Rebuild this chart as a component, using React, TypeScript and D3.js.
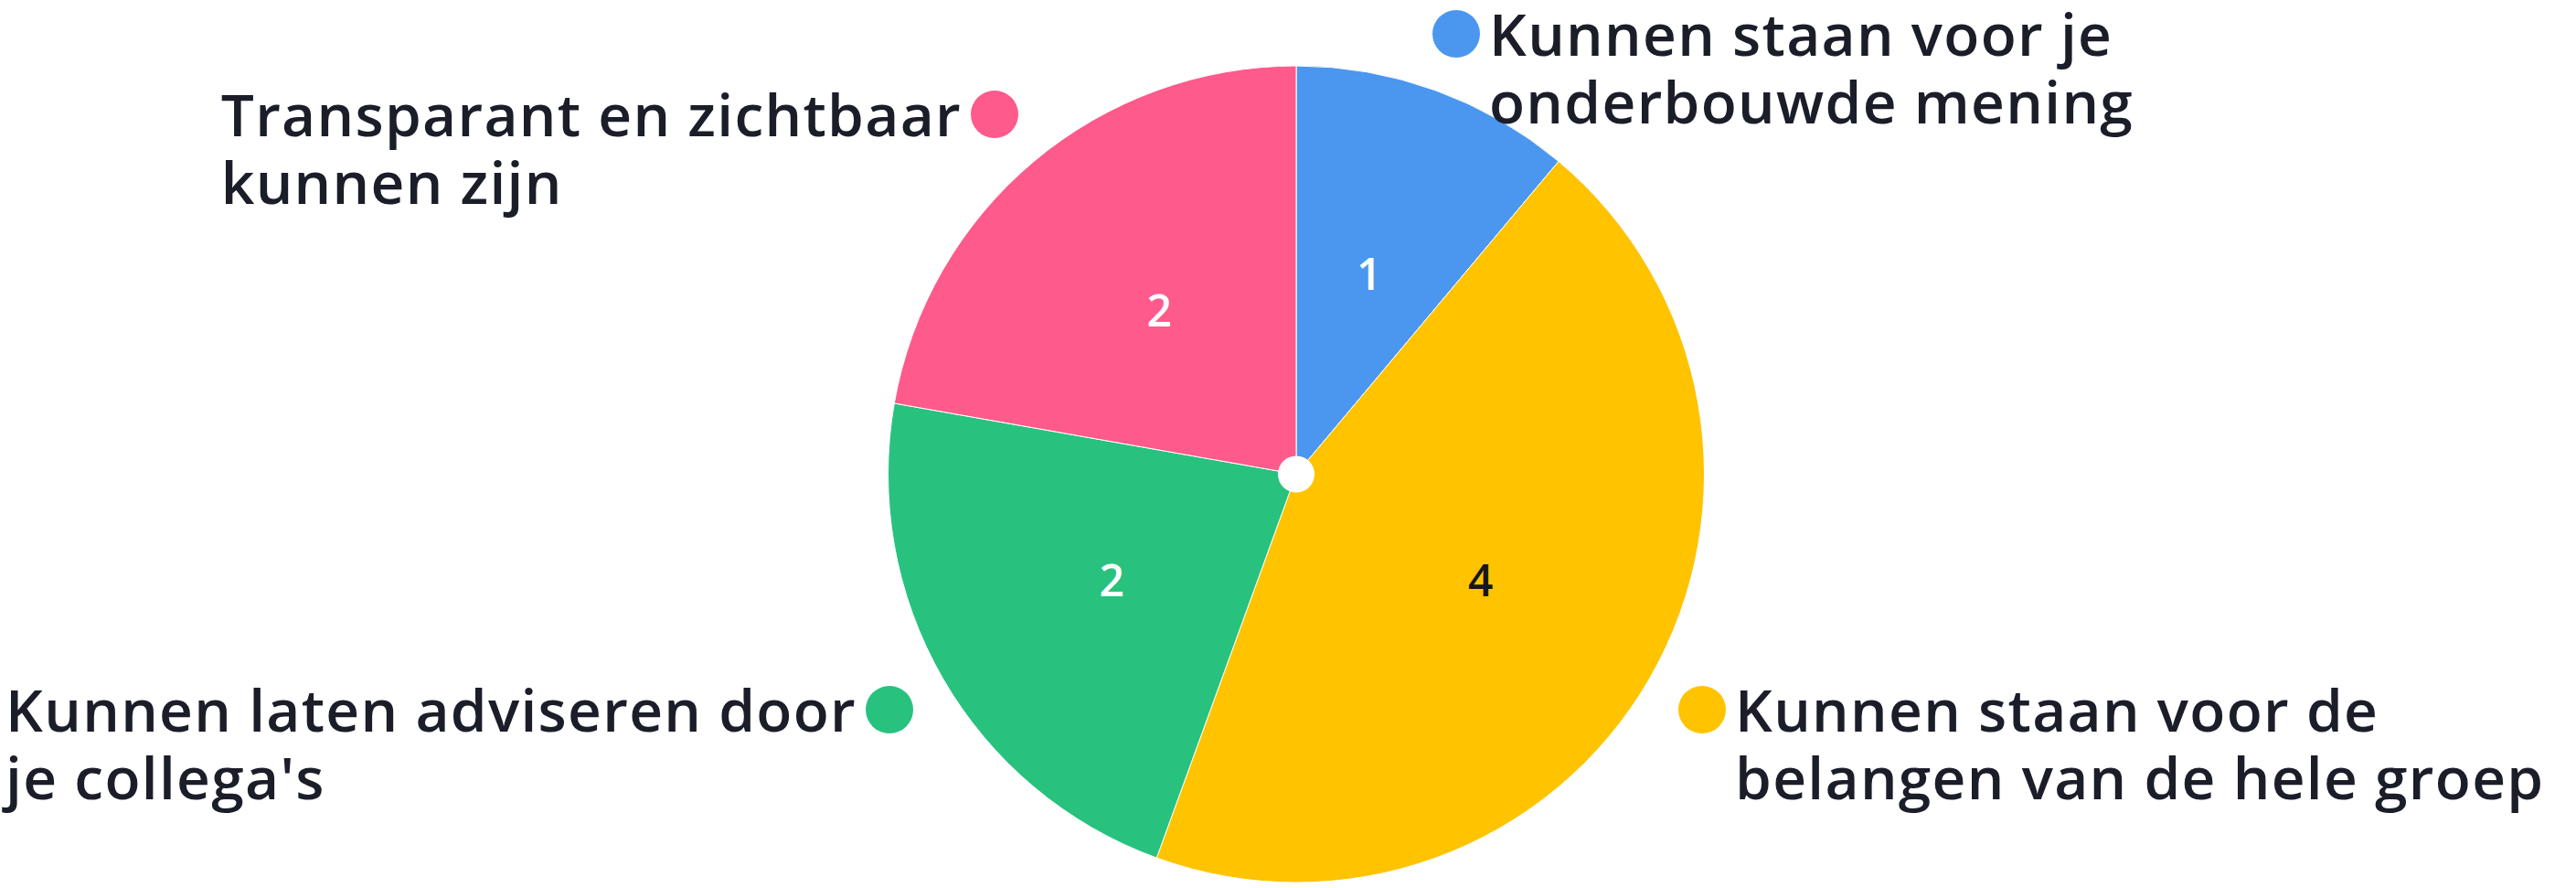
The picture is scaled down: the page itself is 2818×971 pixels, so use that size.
import React, { useLayoutEffect, useState } from "react";
import * as d3 from "d3";

// ---- data ----
const categories = [
  "Kunnen staan voor je onderbouwde mening",
  "Kunnen staan voor de belangen van de hele groep",
  "Kunnen laten adviseren door je collega's",
  "Transparant en zichtbaar kunnen zijn",
];
const values = [1, 4, 2, 2];
const legendLines = [
  ["Kunnen staan voor je", "onderbouwde mening"],
  ["Kunnen staan voor de", "belangen van de hele groep"],
  ["Kunnen laten adviseren door", "je collega's"],
  ["Transparant en zichtbaar", "kunnen zijn"],
];
const colors = ["#4B97EF", "#FFC300", "#28C27E", "#FF5A8C"];
const valueLabelColors = ["#ffffff", "#15171c", "#ffffff", "#ffffff"];

// ---- layout ----
const W = 2818;
const H = 971;
const CX = 1418;
const CY = 518.5;
const R = 446.5;
const LABEL_R = 233;
const FONT = "'Open Sans', 'Noto Sans', sans-serif";
const FS = 64;
const WEIGHT = 600;
const LS = 1.3;
const LINE_H = 73.5;
const DOT_R = 26;
const GAP = 10;
const TEXT_COLOR = "#1b1e29";
// legend anchors: dot centre; side = where the text goes relative to the dot
const legendAnchors = [
  { dx: 1593, dy: 37, side: "right" },
  { dx: 1862, dy: 776, side: "right" },
  { dx: 973, dy: 776, side: "left" },
  { dx: 1088, dy: 125, side: "left" },
];

function measure(text: string): number {
  const c = document.createElement("canvas");
  const ctx = c.getContext("2d")!;
  ctx.font = `${WEIGHT} ${FS}px ${FONT}`;
  return ctx.measureText(text).width + LS * text.length;
}

export default function App() {
  const [widths, setWidths] = useState<number[] | null>(null);
  useLayoutEffect(() => {
    document.body.style.margin = "0";
    setWidths(legendLines.map((ls) => Math.max(...ls.map(measure))));
  }, []);

  const pie = d3
    .pie<number>()
    .sort(null)
    .value((d) => d)
    .startAngle(0)
    .endAngle(2 * Math.PI);
  const arcs = pie(values);
  const arc = d3.arc<d3.PieArcDatum<number>>().innerRadius(0).outerRadius(R);
  const labelArc = d3
    .arc<d3.PieArcDatum<number>>()
    .innerRadius(LABEL_R)
    .outerRadius(LABEL_R);

  return (
    <svg
      width={W}
      height={H}
      style={{ position: "absolute", left: 0, top: 0, background: "#fff" }}
    >
      <g transform={`translate(${CX},${CY})`}>
        {arcs.map((a, i) => (
          <path
            key={categories[i]}
            d={arc(a) || ""}
            fill={colors[i]}
            stroke="#ffffff"
            strokeWidth={1}
          />
        ))}
        {arcs.map((a, i) => {
          const [x, y] = labelArc.centroid(a);
          return (
            <text
              key={"v" + i}
              x={x}
              y={y + 17}
              textAnchor="middle"
              fontFamily={FONT}
              fontWeight={600}
              fontSize={48}
              fill={valueLabelColors[i]}
            >
              {values[i]}
            </text>
          );
        })}
        <circle r={20} fill="#ffffff" />
      </g>
      {legendLines.map((lines, i) => {
        const an = legendAnchors[i];
        const maxW = widths ? widths[i] : 0;
        const x =
          an.side === "right"
            ? an.dx + DOT_R + GAP
            : an.dx - DOT_R - GAP - maxW;
        const baseline = an.dy + 24;
        return (
          <g key={"l" + i}>
            <circle cx={an.dx} cy={an.dy} r={DOT_R} fill={colors[i]} />
            {lines.map((ln, j) => (
              <text
                key={j}
                x={x}
                y={baseline + j * LINE_H}
                fontFamily={FONT}
                fontWeight={WEIGHT}
                fontSize={FS}
                letterSpacing={LS}
                fill={TEXT_COLOR}
              >
                {ln}
              </text>
            ))}
          </g>
        );
      })}
    </svg>
  );
}
